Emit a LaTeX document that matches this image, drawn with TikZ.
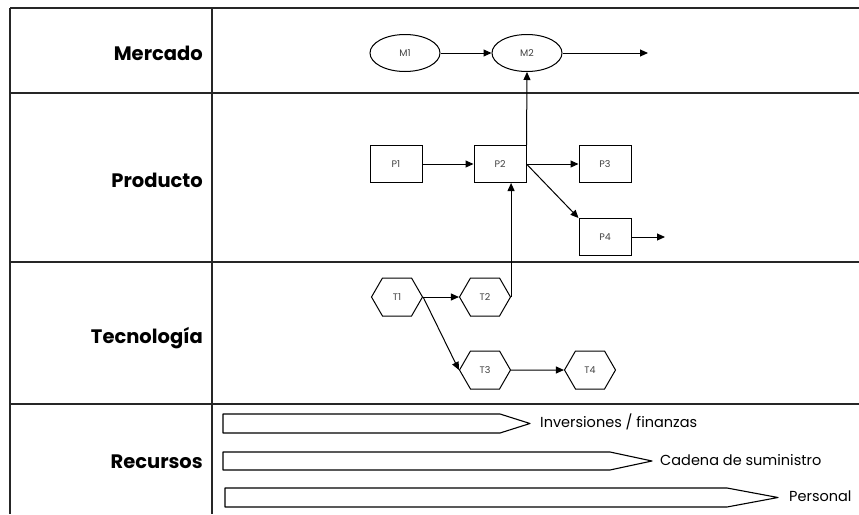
\documentclass[tikz,border=0pt]{standalone}
\usepackage{fontspec}
\setmainfont{Poppins}
\usetikzlibrary{arrows.meta,positioning,shapes.geometric,shapes.symbols}

\begin{document}
\begin{tikzpicture}[
  x=1pt, y=-1pt,
  grid/.style={line width=1.8pt, draw=black!85},
  rowlabel/.style={anchor=east, inner sep=0pt, font=\bfseries\fontsize{19.5}{22}\selectfont},
  small/.style={font=\fontsize{9.5}{10}\selectfont, text=black!75, inner sep=0pt, line width=1pt},
  mkt/.style={draw, ellipse, small, minimum width=70pt, minimum height=37pt},
  prod/.style={draw, rectangle, small, minimum width=52pt, minimum height=37pt},
  tech/.style={draw, signal, signal to=east and west, signal pointer angle=120, small, minimum width=51pt, minimum height=38pt},
  arr/.style={-{Triangle[length=8pt,width=7pt]}, line width=1pt},
  res/.style={draw, line width=1.1pt, line join=round},
  reslabel/.style={anchor=west, inner sep=0pt, font=\fontsize{14.5}{16}\selectfont}
]
\useasboundingbox (0,0) rectangle (859,514);

% table
\draw[grid] (10,8) -- (859,8);
\draw[grid] (10,93) -- (859,93);
\draw[grid] (10,262) -- (859,262);
\draw[grid] (10,404) -- (859,404);
\draw[grid] (10,8) -- (10,514);
\draw[grid] (212,8) -- (212,514);

\node[rowlabel] (mercado) at (203,53) {Mercado};
\node[rowlabel] (producto) at (203,180) {Producto};
\node[rowlabel] (tecnologia) at (203,338) {Tecnología};
\node[rowlabel] (recursos) at (203,462) {Recursos};

% mercado
\node[mkt] (m1) at (405,53) {M1};
\node[mkt] (m2) at (527,53) {M2};
\coordinate (mout) at (648,53);

% producto
\node[prod] (p1) at (396,164) {P1};
\node[prod] (p2) at (500,164) {P2};
\node[prod] (p3) at (605,164) {P3};
\node[prod] (p4) at (605,237) {P4};
\coordinate (pout) at (665,237);

% tecnologia
\node[tech] (t1) at (397,297) {T1};
\node[tech] (t2) at (485,297) {T2};
\node[tech] (t3) at (485,370) {T3};
\node[tech] (t4) at (590,370) {T4};

\draw[arr] (m1) -- (m2);
\draw[arr] (m2) -- (mout);
\draw[arr] (p1) -- (p2);
\draw[arr] (p2.north east) -- (m2.south);
\draw[arr] (p2.east) -- (p3);
\draw[arr] (p2.east) -- (p4.north west);
\draw[arr] (p4) -- (pout);
\draw[arr] (t1.east) -- (t2.west);
\draw[arr] (t1.east) -- (t3.west);
\draw[arr] (t3) -- (t4);
\draw[arr] (t2.east) -- (t2.east |- p2.south);

% recursos
\draw[res] (223,414) -- (500,414) -- (530,423.5) -- (500,433) -- (223,433) -- cycle;
\node[reslabel] (inv) at (540,422) {Inversiones / finanzas};
\draw[res] (223,452) -- (610,452) -- (652,461) -- (610,470) -- (223,470) -- cycle;
\node[reslabel] (cad) at (660,460) {Cadena de suministro};
\draw[res] (225,488) -- (727,488) -- (778,497.5) -- (727,507) -- (225,507) -- cycle;
\node[reslabel] (pers) at (789,496) {Personal};
\end{tikzpicture}
\end{document}
